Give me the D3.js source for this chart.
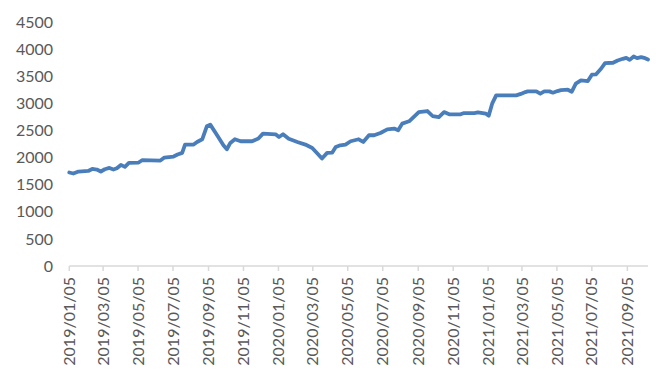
<!DOCTYPE html>
<html>
<head>
<meta charset="utf-8">
<script src="https://cdn.jsdelivr.net/npm/d3@7"></script>
<style>
  html, body { margin: 0; padding: 0; background: #fff; }
  svg { display: block; }
  text { font-family: Lato, "Open Sans", sans-serif; fill: #595959; }
</style>
</head>
<body>
<div id="chart"></div>
<script>
// --- data ---
const dates = [
  "2019-01-05","2019-01-12","2019-01-21","2019-02-07","2019-02-14","2019-02-22",
  "2019-03-01","2019-03-08","2019-03-16","2019-03-23","2019-03-29","2019-04-05",
  "2019-04-12","2019-04-19","2019-05-06","2019-05-12","2019-06-13","2019-06-20",
  "2019-07-06","2019-07-13","2019-07-21","2019-07-26","2019-08-10","2019-08-16",
  "2019-08-25","2019-09-02","2019-09-08","2019-09-20","2019-10-01","2019-10-07",
  "2019-10-13","2019-10-21","2019-10-31","2019-11-20","2019-12-01","2019-12-09",
  "2019-12-31","2020-01-06","2020-01-13","2020-01-23","2020-02-07","2020-02-21",
  "2020-03-04","2020-03-13","2020-03-21","2020-03-30","2020-04-08","2020-04-14",
  "2020-04-22","2020-05-01","2020-05-10","2020-05-24","2020-06-01","2020-06-11",
  "2020-06-20","2020-07-01","2020-07-13","2020-07-25","2020-08-01","2020-08-08",
  "2020-08-20","2020-08-26","2020-09-06","2020-09-21","2020-09-30","2020-10-11",
  "2020-10-20","2020-10-29","2020-11-18","2020-11-24","2020-12-12","2020-12-18",
  "2021-01-01","2021-01-06","2021-01-12","2021-01-19","2021-02-23","2021-03-03",
  "2021-03-11","2021-03-15","2021-03-30","2021-04-06","2021-04-13","2021-04-22",
  "2021-04-28","2021-05-06","2021-05-12","2021-05-24","2021-05-31","2021-06-07",
  "2021-06-16","2021-06-28","2021-07-05","2021-07-12","2021-07-21","2021-07-28",
  "2021-08-11","2021-08-19","2021-08-28","2021-09-03","2021-09-09","2021-09-16",
  "2021-09-22","2021-09-29","2021-10-06","2021-10-11"
];
const values = [
  1728,1709,1746,1757,1794,1783,
  1746,1788,1813,1783,1807,1868,
  1831,1905,1912,1955,1949,2004,
  2023,2060,2090,2244,2244,2292,
  2342,2582,2613,2416,2231,2158,
  2274,2342,2305,2305,2355,2447,
  2434,2384,2434,2350,2292,2244,
  2182,2078,1986,2090,2097,2200,
  2231,2244,2305,2342,2292,2416,
  2416,2458,2526,2539,2508,2631,
  2674,2735,2845,2864,2772,2753,
  2845,2803,2803,2827,2827,2840,
  2815,2779,3000,3153,3153,3180,
  3214,3227,3227,3184,3227,3227,
  3203,3233,3251,3258,3221,3369,
  3430,3417,3535,3540,3645,3749,
  3756,3798,3829,3847,3810,3872,
  3841,3859,3841,3817
];
const xTickLabels = [
  "2019/01/05","2019/03/05","2019/05/05","2019/07/05","2019/09/05","2019/11/05",
  "2020/01/05","2020/03/05","2020/05/05","2020/07/05","2020/09/05","2020/11/05",
  "2021/01/05","2021/03/05","2021/05/05","2021/07/05","2021/09/05"
];
const yTicks = [0, 500, 1000, 1500, 2000, 2500, 3000, 3500, 4000, 4500];

const width = 671, height = 382;
const parse = d3.timeParse("%Y-%m-%d");
const parseTick = d3.timeParse("%Y/%m/%d");
const series = dates.map((d, i) => ({ date: parse(d), value: values[i] }));

const svg = d3.select("#chart").append("svg")
  .attr("width", width)
  .attr("height", height);

const x = d3.scaleTime()
  .domain([parse("2019-01-05"), parse("2021-10-11")])
  .range([69.3, 648]);

const y = d3.scaleLinear()
  .domain([0, 4500])
  .range([266, 22.5]);

// y labels (no axis line, no grid)
svg.append("g")
  .selectAll("text")
  .data(yTicks)
  .join("text")
  .attr("x", 53)
  .attr("y", d => y(d))
  .attr("dy", "0.35em")
  .attr("text-anchor", "end")
  .style("font-size", "16px")
  .text(d => d);

// x axis line + ticks
const xAxis = svg.append("g");
xAxis.append("line")
  .attr("x1", x.range()[0]).attr("x2", x.range()[1])
  .attr("y1", y(0)).attr("y2", y(0))
  .attr("stroke", "#d9d9d9")
  .attr("stroke-width", 1.5);

const tickDates = xTickLabels.map(parseTick);
xAxis.selectAll("line.tick")
  .data(tickDates)
  .join("line")
  .attr("class", "tick")
  .attr("x1", d => x(d)).attr("x2", d => x(d))
  .attr("y1", y(0)).attr("y2", y(0) + 5)
  .attr("stroke", "#d9d9d9")
  .attr("stroke-width", 1.5);

xAxis.selectAll("text")
  .data(tickDates)
  .join("text")
  .attr("transform", d => `translate(${x(d)},277) rotate(-90)`)
  .attr("dy", "0.35em")
  .attr("text-anchor", "end")
  .style("font-size", "16px")
  .text((d, i) => xTickLabels[i]);

// the line
const line = d3.line()
  .x(d => x(d.date))
  .y(d => y(d.value));

svg.append("path")
  .datum(series)
  .attr("d", line)
  .attr("fill", "none")
  .attr("stroke", "#4a7ebb")
  .attr("stroke-width", 3.8)
  .attr("stroke-linejoin", "round")
  .attr("stroke-linecap", "round");
</script>
</body>
</html>
